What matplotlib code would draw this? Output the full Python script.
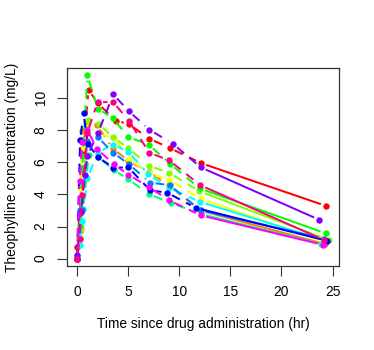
import matplotlib
matplotlib.use("Agg")
import matplotlib.pyplot as plt
import numpy as np

plt.rcParams['font.family'] = ['Liberation Sans', 'DejaVu Sans']

t1 = [0.00, 0.25, 0.57, 1.12, 2.02, 3.82, 5.10, 7.03, 9.05, 12.12, 24.37]
c1 = [0.74, 2.84, 6.57, 10.50, 9.66, 8.58, 8.36, 7.47, 6.89, 5.94, 3.28]
t2 = [0.00, 0.27, 0.52, 1.00, 1.92, 3.50, 5.02, 7.03, 9.00, 12.00, 24.30]
c2 = [0.00, 1.72, 7.91, 8.31, 8.33, 6.85, 6.08, 5.40, 4.55, 3.01, 0.90]
t3 = [0.00, 0.27, 0.58, 1.02, 2.02, 3.62, 5.08, 7.07, 9.00, 12.15, 24.17]
c3 = [0.00, 4.40, 6.90, 8.20, 7.80, 7.50, 6.20, 5.30, 4.90, 3.70, 1.05]
t4 = [0.00, 0.35, 0.60, 1.07, 2.13, 3.50, 5.02, 7.02, 9.02, 11.98, 24.65]
c4 = [0.00, 1.89, 4.60, 8.60, 8.38, 7.54, 6.88, 5.78, 5.33, 4.19, 1.15]
t5 = [0.00, 0.30, 0.52, 1.00, 2.02, 3.50, 5.02, 7.02, 9.10, 12.00, 24.35]
c5 = [0.00, 2.02, 5.63, 11.40, 9.33, 8.74, 7.56, 7.09, 5.90, 4.37, 1.57]
t6 = [0.00, 0.27, 0.58, 1.15, 2.03, 3.57, 5.00, 7.00, 9.22, 12.10, 23.85]
c6 = [0.00, 1.29, 3.08, 6.44, 6.32, 5.53, 4.94, 4.02, 3.46, 2.78, 0.92]
t7 = [0.00, 0.25, 0.50, 1.02, 2.02, 3.48, 5.00, 6.98, 9.00, 12.05, 24.22]
c7 = [0.15, 0.85, 2.35, 5.02, 6.58, 7.09, 6.66, 5.25, 4.39, 3.53, 1.15]
t8 = [0.00, 0.25, 0.52, 0.98, 2.02, 3.53, 5.05, 7.15, 9.07, 12.10, 24.12]
c8 = [0.00, 3.05, 3.05, 7.31, 7.56, 6.59, 5.88, 4.73, 4.57, 3.00, 1.25]
t9 = [0.00, 0.30, 0.63, 1.05, 2.02, 3.53, 5.02, 7.17, 8.80, 11.60, 24.43]
c9 = [0.00, 7.37, 9.03, 7.14, 6.33, 5.66, 5.67, 4.24, 4.11, 3.16, 1.12]
t10 = [0.00, 0.37, 0.77, 1.02, 2.05, 3.55, 5.05, 7.08, 9.38, 12.10, 23.70]
c10 = [0.24, 2.89, 5.22, 6.41, 7.83, 10.21, 9.18, 8.02, 7.14, 5.68, 2.42]
t11 = [0.00, 0.25, 0.50, 0.98, 1.98, 3.60, 5.02, 7.03, 9.03, 12.12, 24.08]
c11 = [0.00, 4.86, 7.24, 8.00, 6.81, 5.87, 5.22, 4.45, 3.62, 2.69, 0.86]
t12 = [0.00, 0.25, 0.50, 1.00, 2.00, 3.52, 5.07, 7.07, 9.03, 12.05, 24.15]
c12 = [0.00, 1.25, 3.96, 7.82, 9.72, 9.75, 8.57, 6.59, 6.11, 4.57, 1.17]

times = [t1, t2, t3, t4, t5, t6, t7, t8, t9, t10, t11, t12]
concs = [c1, c2, c3, c4, c5, c6, c7, c8, c9, c10, c11, c12]
colors = ["#FF0000", "#FF8000", "#FFFF00", "#80FF00", "#00FF00", "#00FF80",
          "#00FFFF", "#0080FF", "#0000FF", "#8000FF", "#FF00FF", "#FF0080"]

xticks = [0, 5, 10, 15, 20, 25]
yticks = [0, 2, 4, 6, 8, 10]

W, H = 374, 350
fig = plt.figure(figsize=(W / 100, H / 100), dpi=100)
ax = fig.add_axes([67 / W, 1 - 266 / H, (339 - 67) / W, (266 - 68) / H])

allt = np.concatenate([np.array(t) for t in times])
allc = np.concatenate([np.array(c) for c in concs])
xr = allt.max() - allt.min()
yr = allc.max() - allc.min()
ax.set_xlim(allt.min() - 0.04 * xr, allt.max() + 0.04 * xr)
ax.set_ylim(allc.min() - 0.04 * yr, allc.max() + 0.04 * yr)

gap = 5.5  # pixels
lw = 1.45
inv = ax.transData.inverted()
for t, c, col in zip(times, concs, colors):
    pts = ax.transData.transform(np.column_stack([t, c]))
    n = len(pts)
    for i in range(n - 1):
        p0, p1 = pts[i], pts[i + 1]
        d = p1 - p0
        L = np.hypot(*d)
        if L <= 2 * gap:
            continue
        u = d / L
        q0 = p0 + u * gap
        q1 = p1 - u * gap
        dq = inv.transform(np.vstack([q0, q1]))
        ls = '-' if i == n - 2 else (0, (4.5, 3.5))
        ax.plot(dq[:, 0], dq[:, 1], color=col, lw=lw, linestyle=ls,
                solid_capstyle='butt', dash_capstyle='butt')
    ax.plot(t, c, linestyle='none', marker='o', ms=4.6, color=col, mec=col, mew=0)

fs = 9.9
ax.set_xticks(xticks)
ax.set_yticks(yticks)
ax.set_yticklabels([str(v) for v in yticks], rotation=90, va='center')
ax.tick_params(axis='both', length=7, width=0.8, labelsize=fs, color='#333333')
ax.tick_params(axis='x', pad=7)
ax.tick_params(axis='y', pad=7)
for s in ax.spines.values():
    s.set_linewidth(0.9)
    s.set_color('#333333')

fig.text(203 / W, 1 - 324 / H, "Time since drug administration (hr)", ha='center', va='center', fontsize=fs)
fig.text(12 / W, 1 - 167 / H, "Theophylline concentration (mg/L)", ha='center', va='center',
         rotation=90, fontsize=fs)

fig.savefig("out.png", dpi=100)
